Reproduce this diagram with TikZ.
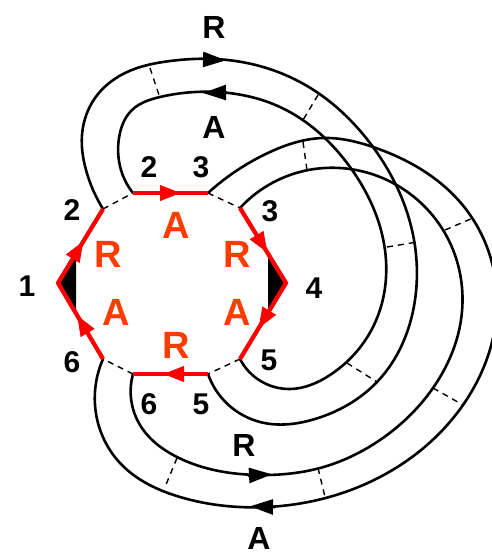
\documentclass[tikz,border=0pt]{standalone}
\usepackage{fontspec}
\setmainfont{Liberation Sans}
\usetikzlibrary{arrows.meta,decorations.markings,hobby}
\definecolor{lbl}{RGB}{255,60,0}
\begin{document}
\begin{tikzpicture}[x=1pt,y=-1pt,
  redline/.style={draw=red,line width=4pt},
  redarr/.style={postaction={decorate},decoration={markings,mark=at position #1 with {\arrow[red]{Triangle[length=21pt,width=15pt]}}}},
  curve/.style={draw=black,line width=2.6pt,use Hobby shortcut},
  curvetip/.style={draw=black,line width=2.6pt,-{Triangle[length=23pt,width=15pt]}},
  rung/.style={draw=black,line width=1.4pt,dash pattern=on 6pt off 5pt},
  num/.style={inner sep=0pt,font=\fontsize{30}{30}\selectfont\bfseries},
  blet/.style={inner sep=0pt,font=\fontsize{32}{32}\selectfont\bfseries},
  olet/.style={inner sep=0pt,text=lbl,font=\fontsize{38}{38}\selectfont\bfseries}]
\useasboundingbox (0,0) rectangle (491,555);
% hexagon corners
\coordinate (v1) at (58,283);
\coordinate (v2o) at (103,209);
\coordinate (v2i) at (133,193);
\coordinate (v3o) at (208,193);
\coordinate (v3i) at (240,208);
\coordinate (v4) at (286,283);
\coordinate (v5i) at (240,359);
\coordinate (v5o) at (208,374);
\coordinate (v6i) at (133,374);
\coordinate (v6o) at (103,359);
% black wedges
\fill (v1) -- (76,253) -- (76,313) -- cycle;
\fill (v4) -- (268,253) -- (268,313) -- cycle;
% dashed gaps
\draw[rung] (v2o) -- (v2i);
\draw[rung] (v3o) -- (v3i);
\draw[rung] (v5i) -- (v5o);
\draw[rung] (v6i) -- (v6o);
% ribbons
\draw[curve] (v2o) .. (86,170) .. (82,135) .. (95,98) .. (125,73) .. (170,61) .. (215,59) .. (300,82) .. (373,147) .. (412,230) .. (415,300) .. (377,382) .. (315,419) .. (260,422) .. (v5o);
\draw[curve] (v2i) .. (121,170) .. (119,138) .. (132,110) .. (160,97) .. (217,92) .. (280,107) .. (350,167) .. (385,250) .. (373,327) .. (330,375) .. (290,389) .. (v5i);
\draw[curve] (v6i) .. (140,425) .. (177,457) .. (260,475) .. (320,468) .. (380,440) .. (433,388) .. (461,320) .. (451,245) .. (400,187) .. (340,168) .. (290,175) .. (v3i);
\draw[curve] (v6o) .. (95,405) .. (120,463) .. (180,497) .. (267,507) .. (380,477) .. (463,405) .. (497,300) .. (465,208) .. (373,147) .. (323,138) .. (270,152) .. (v3o);
% arrow heads on ribbons
\draw[curvetip] (204,59.5) -- (226,60.3);
\draw[curvetip] (227,92.5) -- (203,93);
\draw[curvetip] (248,475.5) -- (272,474.3);
\draw[curvetip] (275,507) -- (250,506.3);
% rungs
\draw[rung] (150,68) -- (160,98);
\draw[rung] (318,95) -- (303,120);
\draw[rung] (387,247) -- (417,242);
\draw[rung] (347,363) -- (377,382);
\draw[rung] (303,142) -- (307,170);
\draw[rung] (445,230) -- (473,218);
\draw[rung] (433,388) -- (463,405);
\draw[rung] (318,468) -- (325,497);
\draw[rung] (177,458) -- (165,487);
% red edges
\draw[redline] (v2o) -- (v1) -- (v6o);
\draw[redline] (v3i) -- (v4) -- (v5i);
\draw[redline,redarr=0.64] (v2i) -- (v3o);
\draw[redline,redarr=0.6] (v5o) -- (v6i);
\draw[redline,redarr=0.57] (v1) -- (v2o);
\draw[redline,redarr=0.58] (v6o) -- (v1);
\draw[redline,redarr=0.6] (v3i) -- (v4);
\draw[redline,redarr=0.6] (v4) -- (v5i);
% labels
\node[blet] (lR1) at (214,27) {R};
\node[blet] (lA1) at (214,127) {A};
\node[blet] (lR2) at (244,445) {R};
\node[blet] (lA2) at (259,538) {A};
\node[num] (n2a) at (149,167) {2};
\node[num] (n3a) at (201,167) {3};
\node[num] (n2b) at (72,210) {2};
\node[num] (n3b) at (270,211) {3};
\node[num] (n1) at (27,286) {1};
\node[num] (n4) at (314,288) {4};
\node[num] (n6a) at (72,362) {6};
\node[num] (n5a) at (269,360) {5};
\node[num] (n6b) at (149,404) {6};
\node[num] (n5b) at (201,404) {5};
\node[olet] (oA1) at (176,225) {A};
\node[olet] (oR1) at (108,254) {R};
\node[olet] (oR2) at (237,254) {R};
\node[olet] (oA2) at (116,312) {A};
\node[olet] (oA3) at (237,312) {A};
\node[olet] (oR3) at (176,345) {R};
\end{tikzpicture}
\end{document}
